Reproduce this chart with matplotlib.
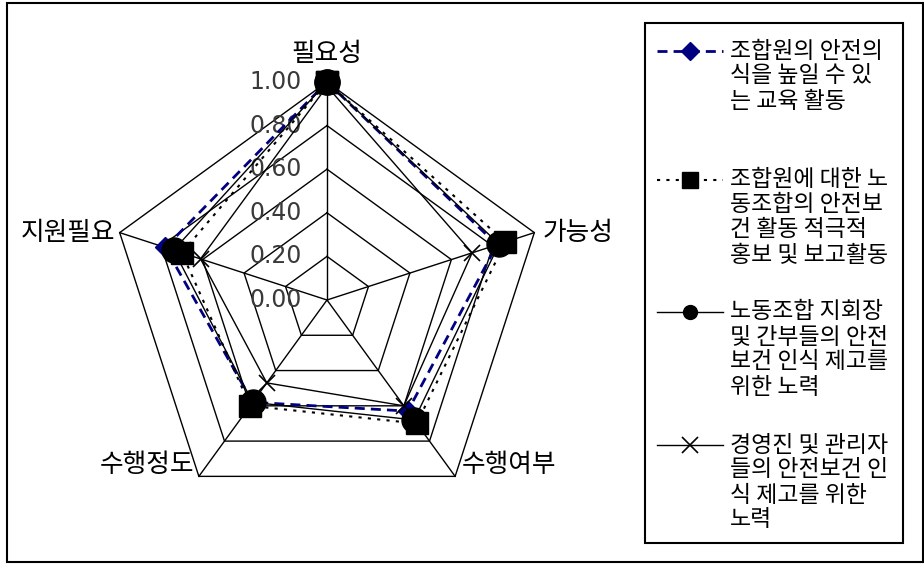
import numpy as np
import matplotlib.pyplot as plt
from matplotlib.lines import Line2D
from matplotlib.patches import Rectangle

plt.rcParams['font.family'] = ['Noto Sans CJK KR', 'DejaVu Sans']

categories = ['필요성', '가능성', '수행여부', '수행정도', '지원필요']
ring_values = [0.2, 0.4, 0.6, 0.8, 1.0]
tick_values = [0.0, 0.2, 0.4, 0.6, 0.8, 1.0]
tick_labels = ['0.00', '0.20', '0.40', '0.60', '0.80', '1.00']

# series values
edu = [1.00, 0.82, 0.63, 0.58, 0.78]
promo = [1.00, 0.86, 0.70, 0.60, 0.70]
leader = [1.00, 0.83, 0.68, 0.58, 0.74]
mgmt = [0.98, 0.70, 0.60, 0.47, 0.61]

legend_labels = [
    ['조합원의 안전의', '식을 높일 수 있', '는 교육 활동'],
    ['조합원에 대한 노', '동조합의 안전보', '건 활동 적극적', '홍보 및 보고활동'],
    ['노동조합 지회장', '및 간부들의 안전', '보건 인식 제고를', '위한 노력'],
    ['경영진 및 관리자', '들의 안전보건 인', '식 제고를 위한', '노력'],
]

W, H = 924, 564
fig = plt.figure(figsize=(W / 100, H / 100), dpi=100)
ax = fig.add_axes([0, 0, 1, 1])
cx, cy, scale = 327, 300, 218   # centre (px) and radius of 1.0 (px)
ax.set_xlim(-cx / scale, (W - cx) / scale)
ax.set_ylim(-(H - cy) / scale, cy / scale)
ax.axis('off')

angles = np.deg2rad(90 - 72 * np.arange(len(categories)))
ux, uy = np.cos(angles), np.sin(angles)


def closed(vals):
    v = np.append(vals, vals[0])
    return v * np.append(ux, ux[0]), v * np.append(uy, uy[0])


# pentagon grid and spokes
for r in ring_values:
    x, y = closed([r] * len(categories))
    ax.plot(x, y, color='black', lw=1, zorder=1)
for i in range(len(categories)):
    ax.plot([0, ux[i]], [0, uy[i]], color='black', lw=1, zorder=1)

for v, lbl in zip(tick_values, tick_labels):
    ax.annotate(lbl, (0, v), xytext=(-25, 0), textcoords='offset pixels',
                ha='right', va='center', fontsize=17, color='#3a3a3a',
                family='DejaVu Sans', zorder=2)

label_pos = [((0, 28), 'center'), ((8, 0), 'left'), ((7, 11), 'left'),
             ((-5, 11), 'right'), ((-4, 0), 'right')]
for i, name in enumerate(categories):
    off, ha = label_pos[i]
    ax.annotate(name, (ux[i], uy[i]), xytext=off, textcoords='offset pixels',
                ha=ha, va='center', fontsize=18.5)

styles = [
    dict(color='#000080', ls=(0, (3.6, 2.2)), lw=2, marker='D', ms=10,
         mfc='#000080', mec='#000080'),
    dict(color='black', ls=(0, (1.5, 3)), lw=1.5, marker='s', ms=16),
    dict(color='black', ls='-', lw=1, marker='o', ms=18),
    dict(color='black', ls='-', lw=1, marker='x', ms=11, mew=1.2),
]
leg_ms = [9, 11, 10, 11]

for k, vals in enumerate([edu, promo, leader, mgmt]):
    x, y = closed(vals)
    ax.plot(x, y, zorder=3 + k, **styles[k])

# frame and legend box
fig.add_artist(Rectangle((7 / W, 1 - 562 / H), 916 / W, 559 / H,
                         transform=fig.transFigure, fill=False, lw=1.5,
                         ec='black'))
fig.add_artist(Rectangle((645 / W, 1 - 543 / H), 258 / W, 520 / H,
                         transform=fig.transFigure, fill=False, lw=1.5,
                         ec='black'))

entry_y = [51, 180, 312, 445]
for k, lines in enumerate(legend_labels):
    y0 = entry_y[k]
    st = dict(styles[k])
    st['ms'] = leg_ms[k]
    mk = st.pop('marker')
    fig.add_artist(Line2D([657 / W, 723 / W], [1 - y0 / H] * 2,
                          transform=fig.transFigure, marker=None, **st))
    st.pop('ls')
    fig.add_artist(Line2D([690 / W], [1 - y0 / H], transform=fig.transFigure,
                          marker=mk, ls='none', **st))
    for j, t in enumerate(lines):
        fig.text(730 / W, 1 - (y0 + 25 * j) / H, t, ha='left', va='center',
                 fontsize=16.5)

fig.savefig('out.png', dpi=100)
